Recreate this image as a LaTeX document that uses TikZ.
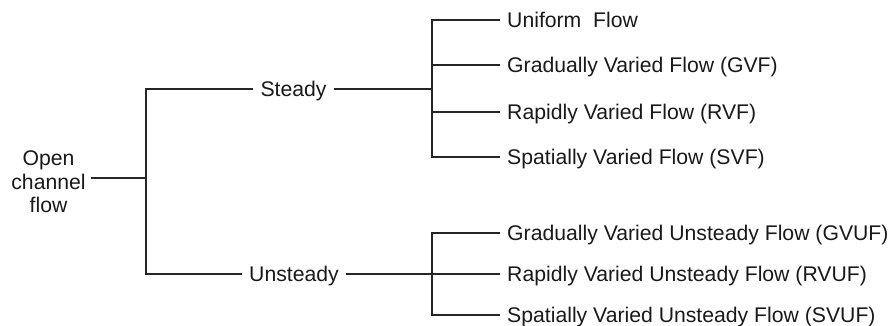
\documentclass[tikz,border=0pt]{standalone}
\usepackage{fontspec}
\setmainfont{Liberation Sans}
\begin{document}
\begin{tikzpicture}[x=1pt,y=1pt,
  conn/.style={draw=black!85,line width=1.1pt},
  lbl/.style={inner xsep=7pt,inner ysep=2pt,text=black!90,font=\fontsize{21.2}{23.5}\selectfont,text height=15.2pt,text depth=0pt},
  leaf/.style={lbl,anchor=west,inner xsep=7pt}]
\useasboundingbox (0,0) rectangle (893,326);
% root
\node[text=black!90,font=\fontsize{21.2}{23.5}\selectfont,align=center,inner sep=0pt] (root) at (48.5,144) {Open\\channel\\flow};
% level 1
\node[lbl] (steady) at (293.5,237) {Steady};
\node[lbl] (unsteady) at (294,52) {Unsteady};
% leaves
\node[leaf] (uf) at (500,306) {Uniform\ \ Flow};
\node[leaf] (gvf) at (500,261) {Gradually Varied Flow (GVF)};
\node[leaf] (rvf) at (500,214) {Rapidly Varied Flow (RVF)};
\node[leaf] (svf) at (500,169) {Spatially Varied Flow (SVF)};
\node[leaf] (gvuf) at (500,93) {Gradually Varied Unsteady Flow (GVUF)};
\node[leaf] (rvuf) at (500,52) {Rapidly Varied Unsteady Flow (RVUF)};
\node[leaf] (svuf) at (500,11) {Spatially Varied Unsteady Flow (SVUF)};
% junctions
\coordinate (ja) at (146,148);
\coordinate (jb) at (432,237);
\coordinate (jc) at (432,52);
% connectors
\draw[conn] ([xshift=5pt]root.east |- ja) -- (ja);
\draw[conn] (steady.west) -| (ja) |- (unsteady.west);
\draw[conn] (steady.east) -- (jb);
\draw[conn] (jb) |- (uf.west);
\draw[conn] (jb) |- (gvf.west);
\draw[conn] (jb) |- (rvf.west);
\draw[conn] (jb) |- (svf.west);
\draw[conn] (unsteady.east) -- (jc);
\draw[conn] (jc) |- (gvuf.west);
\draw[conn] (jc) -- (rvuf.west);
\draw[conn] (jc) |- (svuf.west);
\end{tikzpicture}
\end{document}
